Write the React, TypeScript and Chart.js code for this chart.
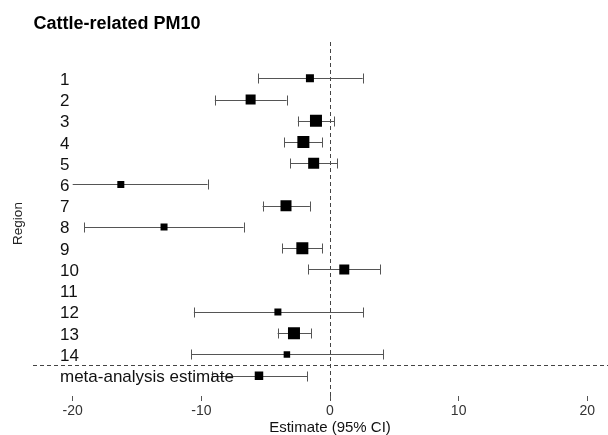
import React, { useEffect, useRef } from "react";
import { Chart, registerables } from "chart.js";

Chart.register(...registerables);

// ---- data ----
const chartTitle = "Cattle-related PM10";
const regionLabels = ["1", "2", "3", "4", "5", "6", "7", "8", "9", "10", "11", "12", "13", "14", "meta-analysis estimate"];
const estimates: (number | null)[] = [-1.56, -6.17, -1.09, -2.07, -1.27, -16.26, -3.42, -12.9, -2.15, 1.11, null, -4.05, -2.8, -3.35, -5.52];
const lowerCI: (number | null)[] = [-5.6, -8.95, -2.5, -3.55, -3.09, -21.5, -5.24, -19.1, -3.71, -1.69, null, -10.58, -4.07, -10.8, -9.2];
const upperCI: (number | null)[] = [2.54, -3.37, 0.34, -0.62, 0.57, -9.52, -1.56, -6.72, -0.62, 3.89, null, 2.6, -1.48, 4.12, -1.77];
const weights: (number | null)[] = [8, 10, 12, 12, 11, 7, 11, 7, 12, 10, null, 7, 12, 6.5, 8.5];
const xTicks = [-20, -10, 0, 10, 20];
const separatorRow = 14.5;
const xAxisTitle = "Estimate (95% CI)";
const yAxisTitle = "Region";

const FONT = '"Liberation Sans", Arial, Helvetica, sans-serif';

const forestPlugin = {
  id: "forest",
  beforeDatasetsDraw(chart: any) {
    const { ctx, chartArea, scales } = chart;
    const x = scales.x;
    const y = scales.y;
    ctx.save();
    // reference lines
    ctx.strokeStyle = "#444";
    ctx.lineWidth = 1;
    ctx.setLineDash([4, 3]);
    const x0 = Math.round(x.getPixelForValue(0)) + 0.5;
    ctx.beginPath();
    ctx.moveTo(x0, chartArea.top);
    ctx.lineTo(x0, chartArea.bottom + 4);
    ctx.stroke();
    const ys = Math.round(y.getPixelForValue(separatorRow)) + 0.5;
    ctx.beginPath();
    ctx.moveTo(33, ys);
    ctx.lineTo(chart.width, ys);
    ctx.stroke();
    ctx.setLineDash([]);

    // error bars
    ctx.strokeStyle = "#555";
    ctx.lineWidth = 1;
    for (let i = 0; i < estimates.length; i++) {
      const lo = lowerCI[i];
      const hi = upperCI[i];
      if (lo == null || hi == null) continue;
      const py = Math.round(y.getPixelForValue(i + 1)) + 0.5;
      const xl = Math.max(x.getPixelForValue(lo), chartArea.left);
      const xr = Math.min(x.getPixelForValue(hi), chartArea.right);
      ctx.beginPath();
      ctx.moveTo(xl, py);
      ctx.lineTo(xr, py);
      if (lo >= x.min) {
        const cx = Math.round(xl) + 0.5;
        ctx.moveTo(cx, py - 5);
        ctx.lineTo(cx, py + 5);
      }
      if (hi <= x.max) {
        const cx = Math.round(xr) + 0.5;
        ctx.moveTo(cx, py - 5);
        ctx.lineTo(cx, py + 5);
      }
      ctx.stroke();
    }
    ctx.restore();
  },
  afterDraw(chart: any) {
    const { ctx, scales } = chart;
    const y = scales.y;
    ctx.save();
    // title
    ctx.fillStyle = "#000";
    ctx.font = `bold 18px ${FONT}`;
    ctx.textAlign = "left";
    ctx.textBaseline = "alphabetic";
    ctx.fillText(chartTitle, 33.5, 29);
    // row labels
    ctx.font = `17px ${FONT}`;
    ctx.fillStyle = "#111";
    for (let i = 0; i < regionLabels.length; i++) {
      const py = y.getPixelForValue(i + 1);
      ctx.fillText(regionLabels[i], 60, py + 6.5);
    }
    // y-axis title
    ctx.translate(18.5, 223.5);
    ctx.rotate(-Math.PI / 2);
    ctx.textAlign = "center";
    ctx.textBaseline = "middle";
    ctx.font = `13.5px ${FONT}`;
    ctx.fillStyle = "#222";
    ctx.fillText(yAxisTitle, 0, 0);
    ctx.restore();
  },
};

export default function App() {
  const ref = useRef<HTMLCanvasElement | null>(null);

  useEffect(() => {
    if (!ref.current) return;
    const points = estimates
      .map((v, i) => (v == null ? null : { x: v, y: i + 1 }))
      .filter((p) => p !== null) as { x: number; y: number }[];
    const radii = weights.filter((w) => w !== null).map((w) => (w as number) / Math.SQRT2);

    const chart = new Chart(ref.current, {
      type: "scatter",
      data: {
        datasets: [
          {
            data: points,
            pointStyle: "rect",
            pointRadius: radii,
            pointHoverRadius: radii,
            backgroundColor: "#000",
            borderColor: "#000",
            borderWidth: 0,
          },
        ],
      },
      plugins: [forestPlugin],
      options: {
        animation: false,
        responsive: false,
        devicePixelRatio: 1,
        events: [],
        layout: { padding: { top: 42, left: 72.7, right: 20.7, bottom: 0 } },
        plugins: {
          legend: { display: false },
          tooltip: { enabled: false },
          title: { display: false },
        },
        scales: {
          x: {
            type: "linear",
            min: xTicks[0],
            max: xTicks[xTicks.length - 1],
            afterBuildTicks: (scale: any) => {
              scale.ticks = xTicks.map((v) => ({ value: v }));
            },
            afterFit: (scale: any) => {
              scale.height = 39;
            },
            ticks: {
              color: "#333",
              font: { size: 14, family: FONT },
              padding: 2,
            },
            grid: {
              drawOnChartArea: false,
              drawTicks: true,
              tickLength: 5,
              color: "#555",
            },
            border: { display: false },
            title: {
              display: true,
              text: xAxisTitle,
              color: "#111",
              font: { size: 15, family: FONT },
              padding: { top: 0, bottom: -1.5 },
            },
          },
          y: {
            type: "linear",
            display: false,
            reverse: true,
            min: -0.709,
            max: 15.958,
          },
        },
      },
    });
    return () => chart.destroy();
  }, []);

  return (
    <div style={{ position: "fixed", left: 0, top: 0, width: 608, height: 435, background: "#fff" }}>
      <canvas ref={ref} width={608} height={435} style={{ width: 608, height: 435, display: "block" }} />
    </div>
  );
}
